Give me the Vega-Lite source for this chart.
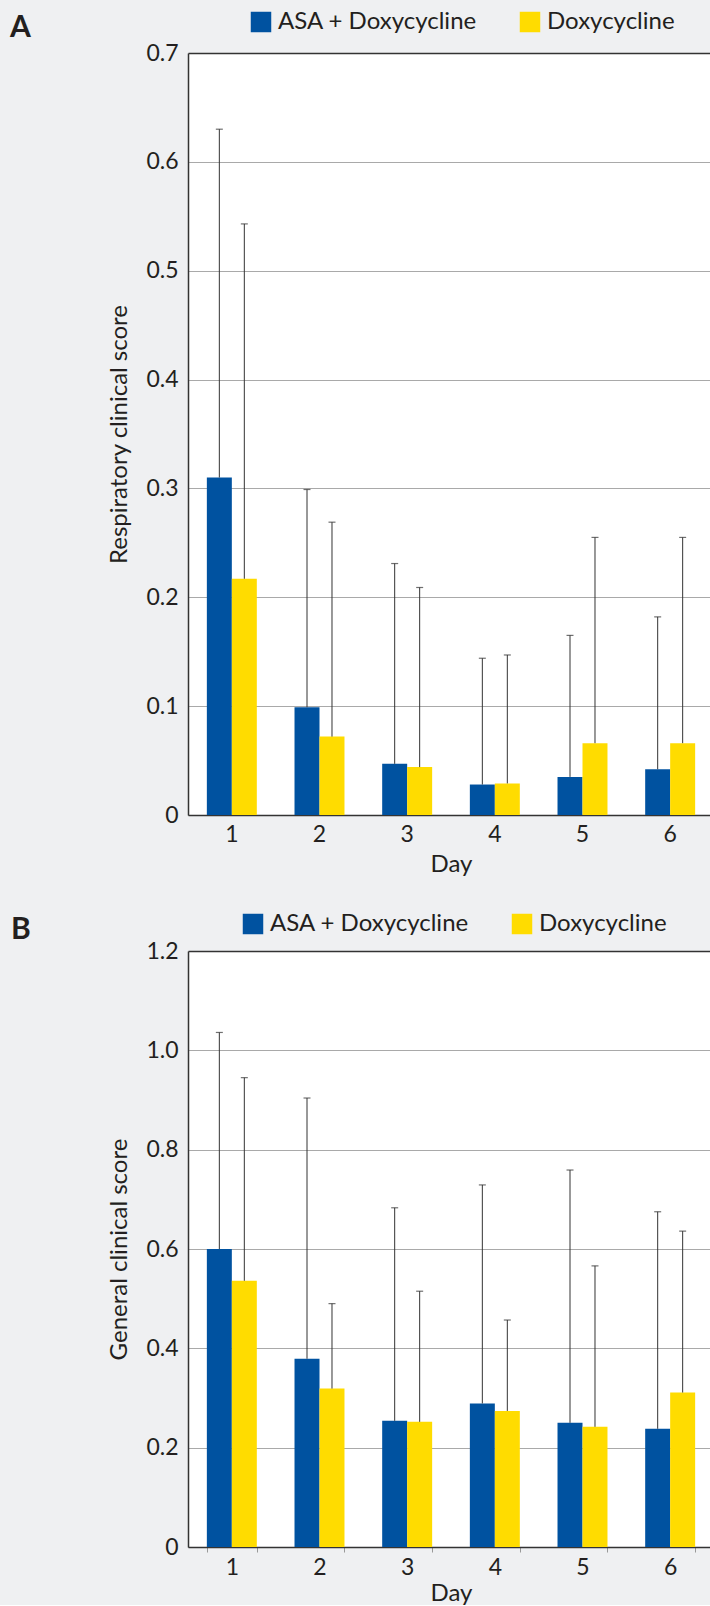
{
  "$schema": "https://vega.github.io/schema/vega-lite/v6.json",
  "background": "#eff0f2",
  "padding": {"left": 10, "top": 10, "right": 0, "bottom": 0},
  "spacing": 36,
  "config": {
    "font": "Lato",
    "view": {"fill": "white", "stroke": null},
    "axis": {
      "labelFont": "Lato", "titleFont": "Lato",
      "labelFontSize": 23, "titleFontSize": 24, "titleFontWeight": "normal",
      "labelColor": "#231f20", "titleColor": "#231f20",
      "domainColor": "#333333", "domainWidth": 1.5,
      "gridColor": "#a9a9a9", "gridWidth": 1
    },
    "legend": {
      "labelFont": "Lato", "labelFontSize": 24, "labelColor": "#231f20",
      "symbolType": "square", "symbolSize": 420, "symbolStrokeWidth": 0,
      "labelLimit": 400, "direction": "horizontal", "orient": "none",
      "padding": 0, "labelOffset": 5, "columnPadding": 41, "title": null
    },
    "title": {"font": "Lato", "fontSize": 30, "fontWeight": "bold", "color": "#231f20", "anchor": "start", "frame": "group", "offset": -33}
  },
  "resolve": {
    "scale": {"x": "independent", "y": "independent", "color": "independent", "xOffset": "independent"},
    "legend": {"color": "independent"},
    "axis": {"x": "independent", "y": "independent"}
  },
  "vconcat": [
    {
      "title": {"text": "A", "dx": -178},
      "width": 526,
      "height": 762,
      "data": {"values": [
        {"day": 1, "group": "ASA + Doxycycline", "mean": 0.310, "upper": 0.630},
        {"day": 1, "group": "Doxycycline", "mean": 0.217, "upper": 0.543},
        {"day": 2, "group": "ASA + Doxycycline", "mean": 0.099, "upper": 0.299},
        {"day": 2, "group": "Doxycycline", "mean": 0.072, "upper": 0.269},
        {"day": 3, "group": "ASA + Doxycycline", "mean": 0.047, "upper": 0.231},
        {"day": 3, "group": "Doxycycline", "mean": 0.044, "upper": 0.209},
        {"day": 4, "group": "ASA + Doxycycline", "mean": 0.028, "upper": 0.144},
        {"day": 4, "group": "Doxycycline", "mean": 0.029, "upper": 0.147},
        {"day": 5, "group": "ASA + Doxycycline", "mean": 0.035, "upper": 0.165},
        {"day": 5, "group": "Doxycycline", "mean": 0.066, "upper": 0.255},
        {"day": 6, "group": "ASA + Doxycycline", "mean": 0.042, "upper": 0.182},
        {"day": 6, "group": "Doxycycline", "mean": 0.066, "upper": 0.255}
      ]},
      "encoding": {
        "x": {"field": "day", "type": "ordinal", "title": "Day",
              "scale": {"paddingInner": 0.43, "paddingOuter": 0.215},
              "axis": {"labelAngle": 0, "ticks": false, "grid": false, "labelPadding": 8, "titlePadding": 6}},
        "xOffset": {"field": "group", "type": "nominal", "sort": ["ASA + Doxycycline", "Doxycycline"]}
      },
      "layer": [
        {
          "mark": {"type": "bar"},
          "encoding": {
            "y": {"field": "mean", "type": "quantitative", "title": "Respiratory clinical score",
                  "scale": {"domain": [0, 0.7], "nice": false},
                  "axis": {"values": [0, 0.1, 0.2, 0.3, 0.4, 0.5, 0.6, 0.7], "ticks": false, "labelPadding": 10,
                           "labelExpr": "datum.value == 0 ? '0' : format(datum.value, '.1f')",
                           "gridColor": {"condition": {"test": "datum.value >= 0.69", "value": "#333333"}, "value": "#a9a9a9"},
                           "gridWidth": {"condition": {"test": "datum.value >= 0.69", "value": 1.5}, "value": 1},
                           "minExtent": 50, "maxExtent": 50, "titlePadding": 7}},
            "color": {"field": "group", "type": "nominal",
                      "scale": {"domain": ["ASA + Doxycycline", "Doxycycline"], "range": ["#0052a0", "#ffdc00"]},
                      "legend": {"legendX": 61, "legendY": -43}}
          }
        },
        {
          "mark": {"type": "rule", "color": "#333333", "strokeWidth": 1},
          "encoding": {"y": {"field": "mean", "type": "quantitative"}, "y2": {"field": "upper"}}
        },
        {
          "mark": {"type": "tick", "color": "#333333", "thickness": 1.2, "size": 7},
          "encoding": {"y": {"field": "upper", "type": "quantitative"}}
        }
      ]
    },
    {
      "title": {"text": "B", "dx": -177},
      "width": 526,
      "height": 596,
      "data": {"values": [
        {"day": 1, "group": "ASA + Doxycycline", "mean": 0.600, "upper": 1.036},
        {"day": 1, "group": "Doxycycline", "mean": 0.536, "upper": 0.945},
        {"day": 2, "group": "ASA + Doxycycline", "mean": 0.379, "upper": 0.904},
        {"day": 2, "group": "Doxycycline", "mean": 0.319, "upper": 0.490},
        {"day": 3, "group": "ASA + Doxycycline", "mean": 0.254, "upper": 0.683},
        {"day": 3, "group": "Doxycycline", "mean": 0.252, "upper": 0.515},
        {"day": 4, "group": "ASA + Doxycycline", "mean": 0.289, "upper": 0.729},
        {"day": 4, "group": "Doxycycline", "mean": 0.274, "upper": 0.457},
        {"day": 5, "group": "ASA + Doxycycline", "mean": 0.250, "upper": 0.759},
        {"day": 5, "group": "Doxycycline", "mean": 0.242, "upper": 0.566},
        {"day": 6, "group": "ASA + Doxycycline", "mean": 0.238, "upper": 0.675},
        {"day": 6, "group": "Doxycycline", "mean": 0.311, "upper": 0.636}
      ]},
      "encoding": {
        "x": {"field": "day", "type": "ordinal", "title": "Day",
              "scale": {"paddingInner": 0.43, "paddingOuter": 0.215},
              "axis": {"labelAngle": 0, "ticks": true, "tickBand": "extent", "tickSize": 5, "tickColor": "#999999", "grid": false, "labelPadding": 4, "titlePadding": 2}},
        "xOffset": {"field": "group", "type": "nominal", "sort": ["ASA + Doxycycline", "Doxycycline"]}
      },
      "layer": [
        {
          "mark": {"type": "bar"},
          "encoding": {
            "y": {"field": "mean", "type": "quantitative", "title": "General clinical score",
                  "scale": {"domain": [0, 1.2], "nice": false},
                  "axis": {"values": [0, 0.2, 0.4, 0.6, 0.8, 1.0, 1.2], "ticks": false, "labelPadding": 10,
                           "labelExpr": "datum.value == 0 ? '0' : format(datum.value, '.1f')",
                           "gridColor": {"condition": {"test": "datum.value >= 1.19", "value": "#333333"}, "value": "#a9a9a9"},
                           "gridWidth": {"condition": {"test": "datum.value >= 1.19", "value": 1.5}, "value": 1},
                           "minExtent": 50, "maxExtent": 50, "titlePadding": 7}},
            "color": {"field": "group", "type": "nominal",
                      "scale": {"domain": ["ASA + Doxycycline", "Doxycycline"], "range": ["#0052a0", "#ffdc00"]},
                      "legend": {"legendX": 53, "legendY": -39}}
          }
        },
        {
          "mark": {"type": "rule", "color": "#333333", "strokeWidth": 1},
          "encoding": {"y": {"field": "mean", "type": "quantitative"}, "y2": {"field": "upper"}}
        },
        {
          "mark": {"type": "tick", "color": "#333333", "thickness": 1.2, "size": 7},
          "encoding": {"y": {"field": "upper", "type": "quantitative"}}
        }
      ]
    }
  ]
}
